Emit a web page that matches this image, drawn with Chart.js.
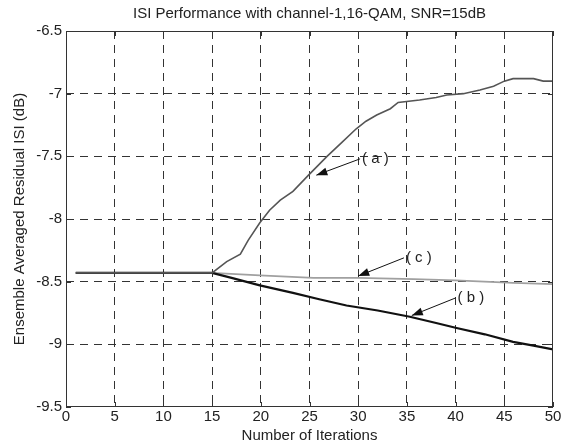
<!DOCTYPE html>
<html>
<head>
<meta charset="utf-8">
<script src="https://cdn.jsdelivr.net/npm/chart.js@4"></script>
<style>
  html, body { margin: 0; padding: 0; background: #fff; }
  canvas { display: block; }
</style>
</head>
<body>
<canvas id="isi" width="564" height="444"></canvas>
<script>
// values
const xTicks = [0, 5, 10, 15, 20, 25, 30, 35, 40, 45, 50];
const yTicks = [-9.5, -9, -8.5, -8, -7.5, -7, -6.5];

const iterA = [1, 15, 16.5, 17.9, 18.7, 19.9, 20.9, 22, 23.3, 24.9, 26.8, 28.3, 29.8, 30.8, 31.9, 33.3, 34.1, 36.3, 38, 39.1, 40.8, 42.5, 43.9, 45, 45.9, 47, 48, 49, 50];
const isiA = [-8.43, -8.43, -8.34, -8.28, -8.17, -8.03, -7.93, -7.85, -7.78, -7.65, -7.5, -7.39, -7.28, -7.22, -7.17, -7.12, -7.07, -7.05, -7.03, -7.01, -7.0, -6.97, -6.94, -6.9, -6.88, -6.88, -6.88, -6.9, -6.9];

const iterB = [1, 15, 17, 19.9, 23.3, 26, 28.8, 32, 35.3, 38, 40.1, 43, 45.9, 48, 50];
const isiB = [-8.43, -8.43, -8.47, -8.53, -8.59, -8.64, -8.69, -8.73, -8.78, -8.83, -8.87, -8.92, -8.98, -9.01, -9.04];

const iterC = [1, 15, 19.9, 25.4, 30, 35.7, 40, 45.9, 50];
const isiC = [-8.43, -8.43, -8.45, -8.47, -8.47, -8.48, -8.49, -8.51, -8.52];

// curve labels: text, label anchor (data units), arrow tip (data units)
const curveNames = ["( a )", "( b )", "( c )"];
const nameAt = [[30.4, -7.52], [40.2, -8.63], [34.9, -8.31]];
const arrowTip = [[25.7, -7.65], [35.5, -8.77], [30.0, -8.455]];

const FONT = "'Liberation Sans', Arial, sans-serif";
const INK = "#222";

function pts(xs, ys) {
    return xs.map((x, i) => ({ x, y: ys[i] }));
}

const frame = {
    id: "frame",
    afterDatasetsDraw(chart) {
        const { ctx, chartArea: a, scales } = chart;
        ctx.save();
        ctx.strokeStyle = "#333";
        ctx.lineWidth = 1;
        ctx.setLineDash([]);
        ctx.strokeRect(a.left + 0.5, a.top + 0.5, a.right - a.left - 1, a.bottom - a.top - 1);
        ctx.beginPath();
        xTicks.forEach(v => {
            const px = Math.round(scales.x.getPixelForValue(v)) + 0.5;
            ctx.moveTo(px, a.bottom); ctx.lineTo(px, a.bottom - 5);
            ctx.moveTo(px, a.top); ctx.lineTo(px, a.top + 5);
        });
        yTicks.forEach(v => {
            const py = Math.round(scales.y.getPixelForValue(v)) + 0.5;
            ctx.moveTo(a.left, py); ctx.lineTo(a.left + 5, py);
            ctx.moveTo(a.right, py); ctx.lineTo(a.right - 5, py);
        });
        ctx.stroke();

        // arrows + labels
        ctx.font = "15px " + FONT;
        ctx.fillStyle = INK;
        ctx.strokeStyle = "#111";
        ctx.textBaseline = "middle";
        curveNames.forEach((name, i) => {
            const lx = scales.x.getPixelForValue(nameAt[i][0]);
            const ly = scales.y.getPixelForValue(nameAt[i][1]);
            const tx = scales.x.getPixelForValue(arrowTip[i][0]);
            const ty = scales.y.getPixelForValue(arrowTip[i][1]);
            ctx.beginPath();
            ctx.moveTo(lx - 2, ly);
            ctx.lineTo(tx, ty);
            ctx.stroke();
            const ang = Math.atan2(ty - ly, tx - lx);
            const L = 11, W = 4;
            ctx.beginPath();
            ctx.moveTo(tx, ty);
            ctx.lineTo(tx - L * Math.cos(ang) + W * Math.sin(ang), ty - L * Math.sin(ang) - W * Math.cos(ang));
            ctx.lineTo(tx - L * Math.cos(ang) - W * Math.sin(ang), ty - L * Math.sin(ang) + W * Math.cos(ang));
            ctx.closePath();
            ctx.fillStyle = "#111";
            ctx.fill();
            ctx.fillStyle = INK;
            ctx.textAlign = "left";
            ctx.fillText(name, lx, ly);
        });
        ctx.restore();
    },
};

const edgeless = (ctx) => (ctx.index === 0 || ctx.index === ctx.chart.scales[ctx.scale.id].ticks.length - 1) ? "rgba(0,0,0,0)" : "#333";

new Chart(document.getElementById("isi"), {
    type: "line",
    data: {
        datasets: [
            { label: "(a)", data: pts(iterA, isiA), borderColor: "#555", borderWidth: 1.6 },
            { label: "(b)", data: pts(iterB, isiB), borderColor: "#111", borderWidth: 2.2 },
            { label: "(c)", data: pts(iterC, isiC), borderColor: "#a0a0a0", borderWidth: 1.6 },
        ],
    },
    options: {
        responsive: false,
        animation: false,
        elements: { point: { radius: 0 }, line: { tension: 0 } },
        layout: { padding: { right: 11, left: 0, top: 0, bottom: 0 } },
        plugins: {
            legend: { display: false },
            tooltip: { enabled: false },
            title: {
                display: true,
                fullSize: false,
                text: "ISI Performance with channel-1,16-QAM, SNR=15dB",
                color: INK,
                font: { family: FONT, size: 15, weight: "normal" },
                padding: { top: 5, bottom: 8 },
            },
        },
        scales: {
            x: {
                type: "linear",
                min: 0,
                max: 50,
                afterBuildTicks: (s) => { s.ticks = xTicks.map(v => ({ value: v })); },
                afterFit: (s) => { s.height = 37; },
                ticks: { color: INK, font: { family: FONT, size: 15 }, padding: 1, maxRotation: 0, callback: (v) => String(v) },
                grid: { color: edgeless, drawTicks: false, lineWidth: 1 },
                border: { display: false, dash: [8, 6] },
                title: { display: true, text: "Number of Iterations", color: INK, font: { family: FONT, size: 15 }, padding: { top: 0, bottom: -1 } },
            },
            y: {
                min: -9.5,
                max: -6.5,
                afterBuildTicks: (s) => { s.ticks = yTicks.map(v => ({ value: v })); },
                afterFit: (s) => { s.width = 66; },
                ticks: { color: INK, font: { family: FONT, size: 15 }, padding: 4, callback: (v) => String(v) },
                grid: { color: edgeless, drawTicks: false, lineWidth: 1 },
                border: { display: false, dash: [8, 6] },
                title: { display: true, text: "Ensemble Averaged Residual ISI (dB)", color: INK, font: { family: FONT, size: 15 }, padding: { top: 11, bottom: 0 } },
            },
        },
    },
    plugins: [frame],
});
</script>
</body>
</html>
